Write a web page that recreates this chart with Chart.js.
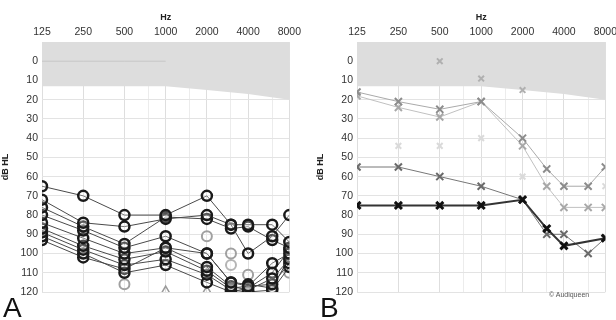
<!DOCTYPE html>
<html>
<head>
<meta charset="utf-8">
<script src="https://cdn.jsdelivr.net/npm/chart.js@4.4.1/dist/chart.umd.min.js"></script>
<style>
  body { margin: 0; background: #fff; width: 616px; height: 320px; overflow: hidden; position: relative; font-family: "Liberation Sans", Arial, sans-serif; }
  .panel { position: absolute; top: 0; height: 320px; }
  #panelA { left: 0; width: 305px; }
  #panelB { left: 315px; width: 306px; }
  .letter { position: absolute; font-size: 28px; line-height: 28px; color: #111; }
  #credit { position: absolute; left: 549px; top: 291px; font-size: 7px; color: #555; }
</style>
</head>
<body>
<div class="panel" id="panelA"><canvas id="chartA" width="305" height="320"></canvas></div>
<div class="panel" id="panelB"><canvas id="chartB" width="306" height="320"></canvas></div>
<div class="letter" style="left:3px;top:294px;">A</div>
<div class="letter" style="left:320px;top:294px;">B</div>
<div id="credit">© Audiqueen</div>
<script>
const freqs = [125, 250, 500, 1000, 2000, 3000, 4000, 6000, 8000];
const freqLabels = [125, 250, 500, 1000, 2000, 4000, 8000];
const gridFreqs = [125, 250, 500, 750, 1000, 1500, 2000, 3000, 4000, 6000, 8000];
const dbTicks = [-10, 0, 10, 20, 30, 40, 50, 60, 70, 80, 90, 100, 110, 120];

// normal hearing zone (grey band)
const bandFreqs = [125, 250, 500, 1000, 2000, 4000, 8000];
const bandDb = [13, 13, 13, 13, 15, 17, 20];

// panel A - circles
const a1 = [65, 70, 80, 80, 70, 85, 100, 91, 80];
const a2 = [72, 84, 86, 82, 80, 85, 85, 85, 94];
const a3 = [76, 86, 95, 81, 82, 87, 86, 93, 97];
const a4 = [80, 88, 97, 91, 100, 115, 117, 105, 100];
const a5 = [84, 92, 100, 97, 107, 117, 119, 113, 103];
const a6 = [87, 96, 103, 99, 109, 118, 117, 116, 105];
const a7 = [89, 98, 106, 103, 111, 119, 120, 119, 107];
const a8 = [91, 100, 110, 106, 115, 120, 118, 110, 98];
const a9 = [93, 102, 108, 97, 100, 115, 116, 118, 102];
const aGrey = [null, null, 116, null, 91, 100, 111, null, 110];
const aGrey2 = [null, null, null, null, null, 106, null, null, null];
const aTri = [null, null, null, 120, 120, null, null, null, null];
const aZero = [0, 0, 0, 0, null, null, null, null, null];

// panel B - crosses
const b1 = [75, 75, 75, 75, 72, 87, 96, null, 92];
const b2 = [55, 55, 60, 65, 72, 90, 90, 100, 92];
const b3 = [16, 21, 25, 21, 40, 56, 65, 65, 55];
const b4 = [18, 24, 29, 21, 44, 65, 76, 76, 76];
const bFaint = [null, 44, 44, 40, 60, null, null, null, 65];
const bBand = [null, null, 0, 9, 15, null, null, null, null];

function pts(xs, ys) {
    return xs.map((f, i) => ({ x: f, y: ys[i] }));
}

function band() {
    return {
        data: pts(bandFreqs, bandDb),
        fill: { value: -10 },
        backgroundColor: "#dddddd",
        borderWidth: 0,
        pointRadius: 0,
        order: 10
    };
}

function circles(ys) {
    return {
        data: pts(freqs, ys),
        borderColor: "#4a4a4a",
        borderWidth: 1,
        pointStyle: "circle",
        pointRadius: 5,
        pointBorderWidth: 2.5,
        pointBorderColor: "#1a1a1a",
        pointBackgroundColor: "rgba(255,255,255,0.25)",
        spanGaps: true,
        order: 1
    };
}

function crosses(ys, color, lineColor, lw, pw) {
    return {
        data: pts(freqs, ys),
        borderColor: lineColor,
        borderWidth: lw,
        pointStyle: "crossRot",
        pointRadius: 5,
        pointBorderWidth: pw,
        pointBorderColor: color,
        spanGaps: true,
        order: 1
    };
}

function options() {
    return {
        responsive: false,
        animation: false,
        layout: { padding: { top: 8, bottom: 28, left: 0, right: 0 } },
        plugins: { legend: { display: false }, tooltip: { enabled: false } },
        scales: {
            x: {
                type: "logarithmic",
                position: "top",
                min: 125,
                max: 8000,
                afterBuildTicks: (axis) => { axis.ticks = gridFreqs.map(v => ({ value: v })); },
                afterFit: (axis) => { axis.height = 34; },
                border: { display: false },
                grid: {
                    drawTicks: false,
                    color: (ctx) => freqLabels.includes(ctx.tick && ctx.tick.value) ? "#dedede" : "#ececec"
                },
                ticks: {
                    autoSkip: false,
                    maxRotation: 0,
                    padding: 4,
                    color: "#333",
                    font: { family: "Liberation Sans", size: 10.5 },
                    callback: (v) => freqLabels.includes(v) ? String(v) : ""
                },
                title: {
                    display: true,
                    text: "Hz",
                    color: "#222",
                    padding: { top: 4, bottom: 0 },
                    font: { family: "Liberation Sans", size: 9, weight: "bold" }
                }
            },
            y: {
                reverse: true,
                min: -10,
                max: 120,
                afterBuildTicks: (axis) => { axis.ticks = dbTicks.map(v => ({ value: v })); },
                afterFit: (axis) => { axis.width = 42; },
                border: { display: false },
                grid: { drawTicks: false, color: "#e3e3e3" },
                ticks: {
                    padding: 4,
                    color: "#333",
                    font: { family: "Liberation Sans", size: 10.5 },
                    callback: (v) => v === -10 ? "" : String(v)
                },
                title: {
                    display: true,
                    text: "dB HL",
                    color: "#222",
                    padding: { top: 0, bottom: 2 },
                    font: { family: "Liberation Sans", size: 9, weight: "bold" }
                }
            }
        }
    };
}

new Chart(document.getElementById("chartA"), {
    type: "line",
    data: {
        datasets: [
            circles(a1), circles(a2), circles(a3), circles(a4), circles(a5),
            circles(a6), circles(a7), circles(a8), circles(a9),
            {
                data: pts(freqs, aGrey), showLine: false, pointStyle: "circle", pointRadius: 5,
                pointBorderWidth: 2, pointBorderColor: "#a0a0a0", pointBackgroundColor: "rgba(255,255,255,0.3)", order: 2
            },
            {
                data: pts(freqs, aGrey2), showLine: false, pointStyle: "circle", pointRadius: 5,
                pointBorderWidth: 2, pointBorderColor: "#b5b5b5", pointBackgroundColor: "rgba(255,255,255,0.3)", order: 2
            },
            {
                data: pts(freqs, aTri), showLine: false, pointStyle: "triangle", pointRadius: 6,
                pointBorderWidth: 1.5, pointBorderColor: "#9a9a9a", pointBackgroundColor: "rgba(255,255,255,0)", order: 2
            },
            { data: pts(freqs, aZero), borderColor: "#c6c6c6", borderWidth: 1, pointRadius: 0, spanGaps: false, order: 9 },
            band()
        ]
    },
    options: options()
});

new Chart(document.getElementById("chartB"), {
    type: "line",
    data: {
        datasets: [
            crosses(b1, "#111", "#333", 2, 3),
            crosses(b2, "#6a6a6a", "#777", 1, 2),
            crosses(b3, "#8c8c8c", "#aaa", 1, 2),
            crosses(b4, "#a8a8a8", "#c0c0c0", 1, 2),
            {
                data: pts(freqs, bFaint), showLine: false, pointStyle: "crossRot", pointRadius: 4,
                pointBorderWidth: 2, pointBorderColor: "#dadada", order: 3
            },
            {
                data: pts(freqs, bBand), showLine: false, pointStyle: "crossRot", pointRadius: 4,
                pointBorderWidth: 2, pointBorderColor: "#b0b0b0", order: 2
            },
            band()
        ]
    },
    options: options()
});
</script>
</body>
</html>
